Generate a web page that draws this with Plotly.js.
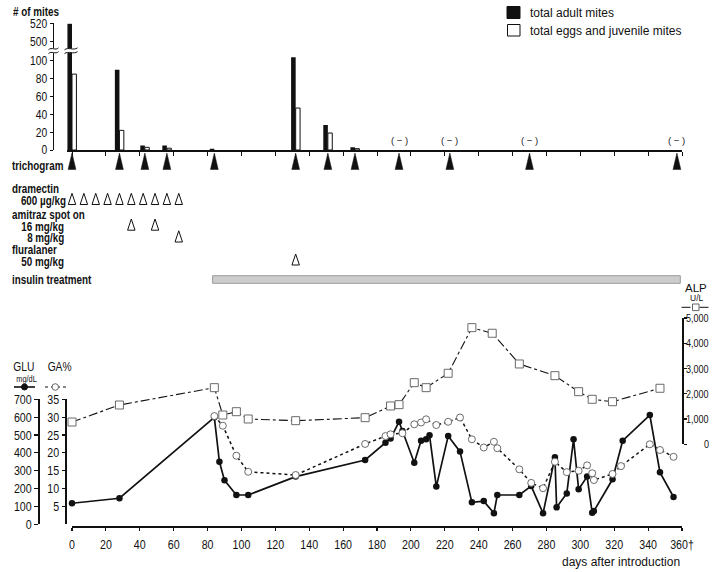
<!DOCTYPE html>
<html><head><meta charset="utf-8">
<script src="https://cdn.plot.ly/plotly-3.0.1.min.js"></script>
<style>html,body{margin:0;padding:0;background:#fff}</style>
</head><body>
<div id="chart" style="width:728px;height:572px"></div>
<script>
// ---------------- DATA ----------------
const trichoDays    = [0, 28, 43, 56, 84, 132, 151, 167, 193, 223, 270, 357];
const adultMites    = [520, 90, 5, 5, 1.5, 104, 28, 3, null, null, null, null];
const juvenileMites = [85, 22, 3, 2, null, 47, 19, 1.5, null, null, null, null];
const negativeDays  = [193, 223, 270, 357];
const mitesTicks    = [0, 20, 40, 60, 80, 100, 500, 520];

const dramectinDays  = [0, 7, 14, 21, 28, 35, 42, 49, 56, 63];
const amitraz16Days  = [35, 49];
const amitraz8Days   = [63];
const fluralanerDays = [132];
const insulinPeriod  = [83, 359];

const gluDays   = [0, 28, 84, 87, 90, 97, 104, 132, 173, 185, 188, 193, 195, 202, 206, 209, 211, 215, 222, 229, 236, 243, 249, 251, 264, 271, 278, 285, 286, 292, 296, 299, 304, 307, 308, 319, 325, 341, 347, 355];
const gluValues = [118, 146, 599, 350, 246, 164, 164, 267, 360, 457, 481, 574, 522, 345, 468, 476, 498, 211, 494, 407, 123, 130, 62, 164, 164, 214, 62, 375, 95, 173, 476, 196, 267, 65, 74, 252, 468, 612, 291, 153];

const gaDays   = [84, 89, 97, 104, 132, 173, 185, 188, 195, 202, 206, 209, 215, 222, 229, 236, 243, 249, 251, 264, 271, 278, 285, 292, 299, 304, 307, 308, 319, 324, 341, 347, 355];
const gaValues = [30.3, 27.6, 19.2, 14.7, 13.8, 22.5, 24.7, 25.2, 25.5, 28.0, 28.5, 29.4, 27.8, 28.7, 29.9, 23.8, 21.5, 23.1, 21.3, 15.4, 11.6, 10.1, 17.5, 14.6, 15.0, 16.5, 14.3, 12.4, 14.1, 16.3, 22.4, 20.8, 18.9];

const alpDays   = [0, 28, 84, 89, 97, 104, 132, 173, 188, 193, 202, 209, 222, 236, 248, 264, 285, 299, 307, 319, 347];
const alpValues = [883, 1556, 2242, 1160, 1291, 1002, 935, 1054, 1517, 1569, 2440, 2242, 2812, 4618, 4396, 3180, 2717, 2083, 1782, 1687, 2218];

const dayTicks      = [0, 20, 40, 60, 80, 100, 120, 140, 160, 180, 200, 220, 240, 260, 280, 300, 320, 340, 360];
const dayTickLabels = ['0','20','40','60','80','100','120','140','160','180','200','220','240','260','280','300','320','340','360†'];
const gluTicks      = [0, 100, 200, 300, 400, 500, 600, 700];
const gaTicks       = [5, 10, 15, 20, 25, 30, 35];
const alpTicks      = [0, 1000, 2000, 3000, 4000, 5000];
const alpTickLabels = ['0', '1,000', '2,000', '3,000', '4,000', '5,000'];

// ---------------- HELPERS ----------------
const W = 728, H = 572;
const px = x => x / W;
const py = y => 1 - y / H;
const SANS = "'Liberation Sans', Arial, sans-serif";
const INK = '#111';

// axis break on the mites axis: values of 500 and more are shifted down
const BREAK_SHIFT = 500 - 121.3;
const mt = v => (v == null ? null : (v < 500 ? v : v - BREAK_SHIFT));

const shapes = [];
const annotations = [];

function txt(text, x, y, opts = {}) {
  const a = Object.assign({
    text: text, x: x, y: y, xref: 'paper', yref: 'paper',
    showarrow: false, xanchor: 'left', yanchor: 'middle',
    font: {family: SANS, size: 12, color: INK}
  }, opts);
  a.align = a.xanchor;
  annotations.push(a);
}

function tri(day, yTop, yBot, hw, filled) {
  shapes.push({
    type: 'path', xref: 'x', yref: 'paper',
    path: `M ${day - hw},${py(yBot)} L ${day},${py(yTop)} L ${day + hw},${py(yBot)} Z`,
    fillcolor: filled ? INK : '#fff',
    line: {color: INK, width: filled ? 0.5 : 1}
  });
}

trichoDays.forEach(d => tri(d, 153, 169.5, 2.3, true));
dramectinDays.forEach(d => tri(d, 193.3, 204.5, 2.2, false));
amitraz16Days.forEach(d => tri(d, 219, 230.2, 2.2, false));
amitraz8Days.forEach(d => tri(d, 230.8, 242, 2.2, false));
fluralanerDays.forEach(d => tri(d, 254, 265, 2.2, false));

// insulin bar
shapes.push({type: 'rect', xref: 'x', yref: 'paper',
  x0: insulinPeriod[0], x1: insulinPeriod[1], y0: py(283.3), y1: py(275.7),
  fillcolor: '#cdcdcd', line: {color: '#9a9a9a', width: 1}});

// legend squares (top right)
shapes.push({type: 'rect', xref: 'paper', yref: 'paper', x0: px(507), x1: px(520), y0: py(18.5), y1: py(6.5), fillcolor: INK, line: {color: INK, width: 1}});
shapes.push({type: 'rect', xref: 'paper', yref: 'paper', x0: px(507.5), x1: px(520), y0: py(36), y1: py(24.5), fillcolor: '#fff', line: {color: INK, width: 1}});
txt('total adult mites', px(528), py(12.5));
txt('total eggs and juvenile mites', px(528), py(30.5));

// axis-break symbol
function wave(x0, x1, y) {
  const w = x1 - x0;
  return `M ${px(x0)},${py(y + 1)} C ${px(x0 + w * 0.3)},${py(y - 2.2)} ${px(x0 + w * 0.7)},${py(y + 2.2)} ${px(x1)},${py(y - 1)}`;
}
[[48.5, 58.5], [64.5, 77.5]].forEach(([a, b]) => {
  shapes.push({type: 'rect', xref: 'paper', yref: 'paper', x0: px(a), x1: px(b), y0: py(53), y1: py(48.5), fillcolor: '#fff', line: {width: 0}});
  shapes.push({type: 'path', xref: 'paper', yref: 'paper', path: wave(a, b, 48.8), line: {color: INK, width: 1}});
  shapes.push({type: 'path', xref: 'paper', yref: 'paper', path: wave(a, b, 52.6), line: {color: INK, width: 1}});
});

// "(−)" for negative trichograms
negativeDays.forEach(d => annotations.push({
  text: '( − )', x: d, y: 11.2, xref: 'x', yref: 'y', showarrow: false,
  xanchor: 'center', align: 'center', yanchor: 'middle', font: {family: SANS, size: 9.5, color: '#222'}
}));

// top texts
txt('<b># of mites</b>', px(11), py(12));
txt('<b>trichogram</b>', px(10), py(166));
txt('<b>dramectin</b>', px(10), py(189.5));
txt('<b>600 µg/kg</b>', px(67.5), py(200.5), {xanchor: 'right'});
txt('<b>amitraz spot on</b>', px(10), py(215));
txt('<b>16 mg/kg</b>', px(65.5), py(226.5), {xanchor: 'right'});
txt('<b>8 mg/kg</b>', px(65.5), py(238), {xanchor: 'right'});
txt('<b>fluralaner</b>', px(10), py(250));
txt('<b>50 mg/kg</b>', px(65.5), py(261.5), {xanchor: 'right'});
txt('<b>insulin treatment</b>', px(10), py(279.5));

// lower legend labels
txt('GLU', px(23.5), py(367), {xanchor: 'center', font: {family: SANS, size: 12.5, color: INK}});
txt('GA%', px(59), py(367), {xanchor: 'center', font: {family: SANS, size: 12.5, color: INK}});
txt('mg/dL', px(26), py(378.5), {xanchor: 'center', font: {family: SANS, size: 9, color: INK}});
shapes.push({type: 'line', xref: 'paper', yref: 'paper', x0: px(14), x1: px(35), y0: py(387), y1: py(387), line: {color: INK, width: 1.6}});
shapes.push({type: 'circle', xref: 'paper', yref: 'paper', x0: px(21.5), x1: px(27.5), y0: py(390), y1: py(384), fillcolor: INK, line: {color: INK, width: 1}});
shapes.push({type: 'line', xref: 'paper', yref: 'paper', x0: px(45), x1: px(66), y0: py(387), y1: py(387), line: {color: INK, width: 1.2, dash: 'dot'}});
shapes.push({type: 'circle', xref: 'paper', yref: 'paper', x0: px(52), x1: px(58.5), y0: py(390.3), y1: py(383.7), fillcolor: '#fff', line: {color: '#666', width: 1}});

txt('ALP', px(695.5), py(287.5), {xanchor: 'center', font: {family: SANS, size: 11.5, color: INK}});
txt('U/L', px(697), py(297.5), {xanchor: 'center', font: {family: SANS, size: 8.5, color: INK}});
shapes.push({type: 'line', xref: 'paper', yref: 'paper', x0: px(681.5), x1: px(711), y0: py(307.3), y1: py(307.3), line: {color: INK, width: 1, dash: 'dashdot'}});
shapes.push({type: 'rect', xref: 'paper', yref: 'paper', x0: px(692.5), x1: px(699), y0: py(310.6), y1: py(304), fillcolor: '#fff', line: {color: '#666', width: 1}});

alpTicks.forEach((v, i) => annotations.push({
  text: alpTickLabels[i], x: px(711), y: v, xref: 'paper', yref: 'y4',
  showarrow: false, xanchor: 'right', align: 'right', yanchor: 'middle',
  font: {family: SANS, size: 11, color: INK}
}));

txt('days after introduction', px(682), py(562), {xanchor: 'right'});

// ---------------- TRACES ----------------
const traces = [
  {type: 'bar', x: trichoDays, y: adultMites.map(mt), xaxis: 'x', yaxis: 'y',
   offset: -2.7, width: 2.7, marker: {color: INK, line: {width: 0}}, hoverinfo: 'skip'},
  {type: 'bar', x: trichoDays, y: juvenileMites.map(mt), xaxis: 'x', yaxis: 'y',
   offset: 0, width: 2.6, marker: {color: '#fff', line: {color: INK, width: 1}}, hoverinfo: 'skip'},
  {type: 'scatter', mode: 'lines+markers', x: alpDays, y: alpValues, xaxis: 'x2', yaxis: 'y4',
   line: {color: INK, width: 1.1, dash: 'dashdot'},
   marker: {symbol: 'square', size: 8, color: '#fff', line: {color: '#6a6a6a', width: 1}}, cliponaxis: false},
  {type: 'scatter', mode: 'lines+markers', x: gaDays, y: gaValues, xaxis: 'x2', yaxis: 'y3',
   line: {color: INK, width: 1.5, dash: 'dot'},
   marker: {symbol: 'circle', size: 7, color: '#fff', line: {color: '#6a6a6a', width: 1}}, cliponaxis: false},
  {type: 'scatter', mode: 'lines+markers', x: gluDays, y: gluValues, xaxis: 'x2', yaxis: 'y2',
   line: {color: INK, width: 1.7},
   marker: {symbol: 'circle', size: 6.5, color: INK}, cliponaxis: false}
];

const baseAxis = {showgrid: false, zeroline: false, showline: true, linecolor: INK, tickcolor: INK, fixedrange: true};
const tickFont = {family: SANS, size: 13, color: INK};

const layout = {
  width: W, height: H, margin: {l: 0, r: 0, t: 0, b: 0},
  paper_bgcolor: '#fff', plot_bgcolor: 'rgba(0,0,0,0)',
  showlegend: false, barmode: 'overlay',
  font: {family: SANS, size: 12, color: INK},
  xaxis: Object.assign({}, baseAxis, {
    domain: [px(66.7), px(682)], range: [-3.13, 360], anchor: 'y',
    linewidth: 1.5, ticks: 'outside', ticklen: 4, tickwidth: 1,
    tickvals: dayTicks, showticklabels: false
  }),
  yaxis: Object.assign({}, baseAxis, {
    domain: [py(150), py(23.3)], range: [0, mt(520) + 0.6], anchor: 'free', position: px(52.7),
    linewidth: 1, ticks: 'outside', ticklen: 3, tickwidth: 1,
    tickvals: mitesTicks.map(mt), ticktext: mitesTicks.map(String),
    tickfont: {family: SANS, size: 12.5, color: INK}
  }),
  xaxis2: Object.assign({}, baseAxis, {
    domain: [px(72), px(682)], range: [0, 360], anchor: 'free', position: py(526),
    linewidth: 1.6, ticks: 'outside', ticklen: 3, tickwidth: 1.2,
    tickvals: dayTicks, ticktext: dayTickLabels, ticklabelstandoff: 3,
    tickfont: tickFont
  }),
  yaxis2: Object.assign({}, baseAxis, {
    domain: [py(524.3), py(399.3)], range: [0, 700], anchor: 'free', position: px(39.3),
    linewidth: 2, ticks: 'outside', ticklen: 4, tickwidth: 1.2,
    tickvals: gluTicks, tickfont: tickFont
  }),
  yaxis3: Object.assign({}, baseAxis, {
    overlaying: 'y2', range: [0, 35], anchor: 'free', position: px(65.7), side: 'left',
    linewidth: 2, ticks: 'outside', ticklen: 3, tickwidth: 1.2,
    tickvals: gaTicks, tickfont: tickFont
  }),
  yaxis4: Object.assign({}, baseAxis, {
    domain: [py(444.3), py(318)], range: [0, 5000], anchor: 'free', position: px(683.3), side: 'right',
    linewidth: 2, ticks: 'outside', ticklen: 3, tickwidth: 1.2,
    tickvals: alpTicks, showticklabels: false
  }),
  shapes: shapes,
  annotations: annotations
};

// texts that keep the normal (non-condensed) width
const REGULAR = new Set(['total adult mites', 'total eggs and juvenile mites', 'ALP', 'U/L', 'days after introduction', '( − )']);
const CONDENSE = 0.82;

// condense the narrow-style texts while keeping their anchor point
function condenseTexts() {
  document.querySelectorAll('#chart svg text').forEach(el => {
    const s = (el.textContent || '').trim();
    if (!s || REGULAR.has(s)) return;
    let len;
    try { len = el.getComputedTextLength(); } catch (e) { return; }
    if (!len) return;
    const anchor = el.getAttribute('text-anchor') || getComputedStyle(el).textAnchor || 'start';
    const xa = parseFloat(el.getAttribute('x') || '0');
    const w1 = len * CONDENSE;
    let xs = xa;
    if (anchor === 'end') xs = xa - w1;
    else if (anchor === 'middle') xs = xa - w1 / 2;
    el.setAttribute('text-anchor', 'start');
    el.style.textAnchor = 'start';
    el.setAttribute('x', xs.toFixed(2));
    el.setAttribute('textLength', w1.toFixed(2));
    el.setAttribute('lengthAdjust', 'spacingAndGlyphs');
  });
}

Plotly.newPlot('chart', traces, layout, {staticPlot: true, displayModeBar: false}).then(condenseTexts);
</script>
</body></html>
